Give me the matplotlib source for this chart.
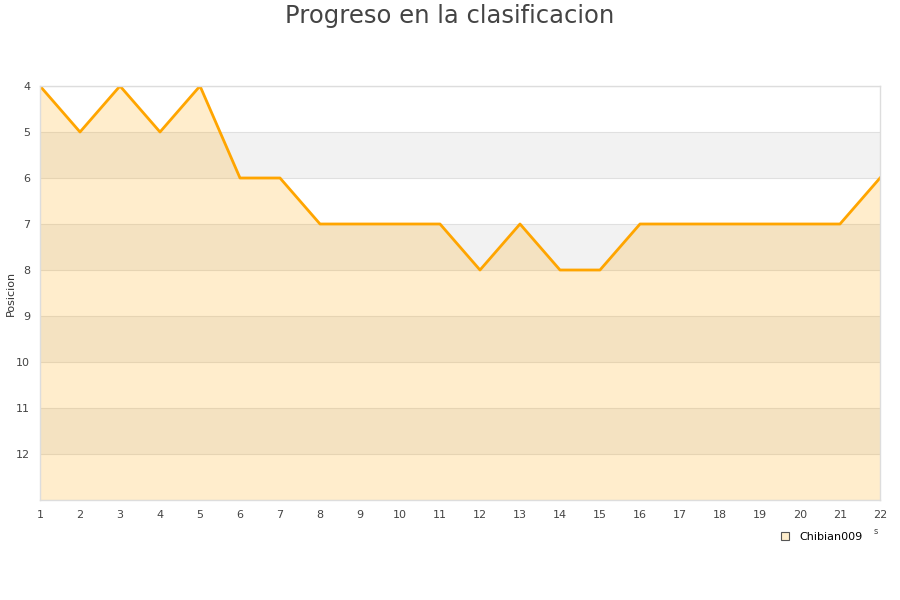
import matplotlib
matplotlib.use("Agg")
import matplotlib.pyplot as plt
from matplotlib.lines import Line2D

jornadas = list(range(1, 23))
posicion = [4, 5, 4, 5, 4, 6, 6, 7, 7, 7, 7, 8, 7, 8, 8, 7, 7, 7, 7, 7, 7, 6]
yticks = [4, 5, 6, 7, 8, 9, 10, 11, 12]
serie = "Chibian009"

fig = plt.figure(figsize=(9, 6), dpi=100)
ax = fig.add_axes([40/900, 1-500/600, 840/900, 414/600])

ymin, ymax = 4, 13
# alternating bands
for b in range(ymin, ymax):
    if (b - ymin) % 2 == 1:
        ax.axhspan(b, b + 1, color="#f2f2f2", zorder=0, lw=0)
for b in range(ymin, ymax + 1):
    ax.axhline(b, color="#e0e0e0", lw=0.8, zorder=0.5)

ax.fill_between(jornadas, posicion, ymax, color="#ffa500", alpha=0.2, lw=0, zorder=1)
ax.plot(jornadas, posicion, color="#ffa500", lw=2, zorder=2)

ax.set_xlim(1, 22)
ax.set_ylim(ymax, ymin)
ax.set_xticks(jornadas)
ax.set_yticks(yticks)
ax.tick_params(axis="x", length=0, labelsize=8, labelcolor="#444444", pad=7)
ax.tick_params(axis="y", length=0, labelsize=8, labelcolor="#444444", pad=7)
for s in ax.spines.values():
    s.set_color("#dddddd")
    s.set_linewidth(1)
ax.set_ylabel("Posicion", fontsize=8, color="#333333")
ax.yaxis.set_label_coords(-24/840, 0.5)

fig.text(0.5, 1-16/600, "Progreso en la clasificacion", ha="center", va="center",
         fontsize=17.5, color="#444444")

handle = Line2D([], [], marker="s", linestyle="none", markersize=6,
                markerfacecolor="#ffeecc", markeredgecolor="#555555", markeredgewidth=0.8)
leg = fig.legend([handle], [serie], loc="center left", bbox_to_anchor=(769/900, 1-537/600),
                 frameon=False, fontsize=8, handletextpad=0.3, borderaxespad=0)
fig.text(876/900, 1-532/600, "s", fontsize=6, color="#444444", ha="center", va="center")

fig.savefig("out.png", dpi=100)
